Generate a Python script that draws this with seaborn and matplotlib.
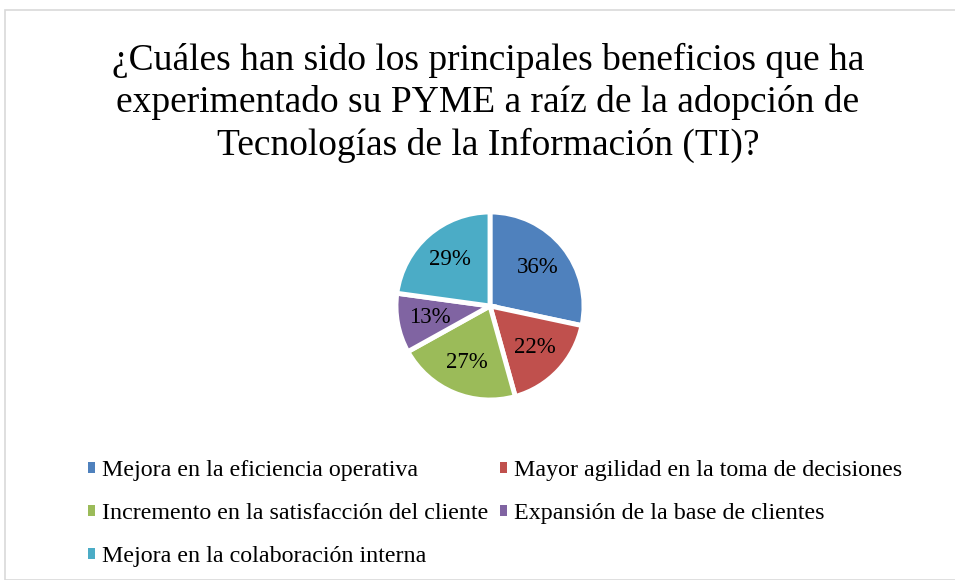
import matplotlib
matplotlib.use("Agg")
import matplotlib.pyplot as plt
import seaborn as sns
from matplotlib.patches import Rectangle

categories = [
    "Mejora en la eficiencia operativa",
    "Mayor agilidad en la toma de decisiones",
    "Incremento en la satisfacción del cliente",
    "Expansión de la base de clientes",
    "Mejora en la colaboración interna",
]
values = [36, 22, 27, 13, 29]
colors = ["#4F81BD", "#C0504D", "#9BBB59", "#8064A2", "#4BACC6"]
title = "¿Cuáles han sido los principales beneficios que ha\nexperimentado su PYME a raíz de la adopción de\nTecnologías de la Información (TI)?"

sns.set_theme(style="white", palette=colors)
plt.rcParams['font.family'] = ['Liberation Serif', 'DejaVu Serif']
plt.rcParams['text.color'] = 'black'

W, H = 955, 580
fig = plt.figure(figsize=(W / 100, H / 100), dpi=100)

# chart border
fig.patches.append(Rectangle((5 / W, 0), 1, 1 - 10 / H, transform=fig.transFigure,
                             fill=False, edgecolor="#D9D9D9", linewidth=1.2))

cx, cy, r = 490, 306, 94
half = 1.25 * r
ax = fig.add_axes([(cx - half) / W, 1 - (cy + half) / H, 2 * half / W, 2 * half / H])
total = sum(values)
wedges, texts, autotexts = ax.pie(
    values, colors=sns.color_palette(colors), startangle=90, counterclock=False,
    autopct=lambda p: f"{round(p * total / 100)}%", pctdistance=0.65,
    wedgeprops=dict(edgecolor="white", linewidth=3.5),
    textprops=dict(fontsize=16.5, color="black"),
)
ax.set_aspect("equal")

fig.text(488 / W, 1 - 43 / H, title, ha="center", va="top", fontsize=27,
         linespacing=1.27, color="black")

order = [0, 2, 4, 1, 3]
leg = fig.legend([wedges[i] for i in order], [categories[i] for i in order],
                 ncol=2, loc="upper left", bbox_to_anchor=(88 / W, 1 - 460 / H),
                 frameon=False, fontsize=17.3, handlelength=0.3, handleheight=0.3,
                 handletextpad=0.3, columnspacing=0.47, labelspacing=0.92,
                 borderaxespad=0, borderpad=0)
for h in leg.legend_handles:
    h.set_edgecolor("none")
for t in leg.get_texts():
    t.set_color("black")

fig.savefig("out.png", dpi=100)
